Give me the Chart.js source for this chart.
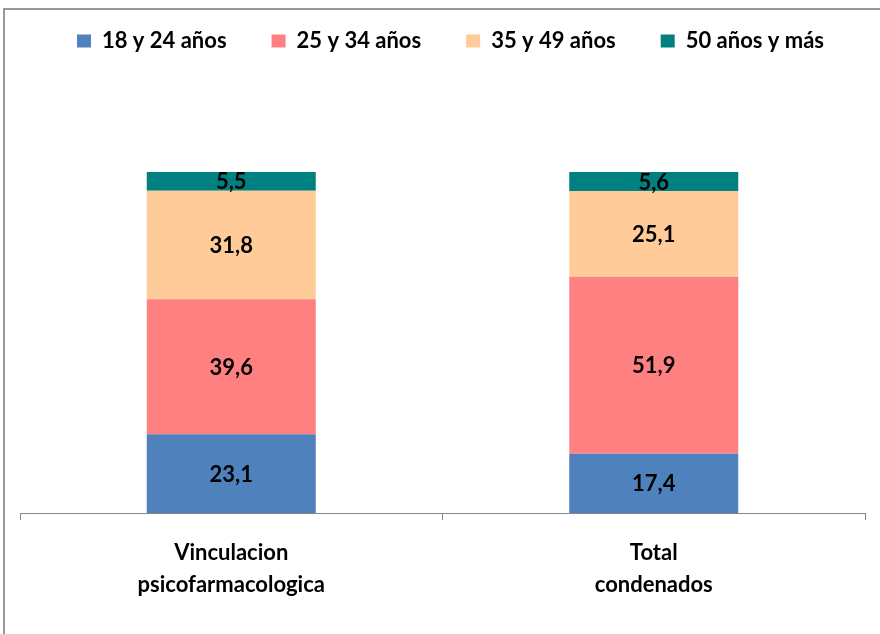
<!DOCTYPE html>
<html>
<head>
<meta charset="utf-8">
<script src="https://cdn.jsdelivr.net/npm/chart.js@4.4.1/dist/chart.umd.min.js"></script>
<style>
  html, body { margin: 0; padding: 0; background: #fff; }
  #wrap { position: relative; width: 880px; height: 634px; overflow: hidden; }
  #frame { position: absolute; left: 3px; top: 8px; width: 900px; height: 700px;
           border-left: 2px solid #999; border-top: 2px solid #999; }
  #c { position: absolute; left: 0; top: 0; }
</style>
</head>
<body>
<div id="wrap">
  <div id="frame"></div>
  <canvas id="c" width="880" height="634"></canvas>
</div>
<script>
// Data
var categories = [['Vinculacion', 'psicofarmacologica'], ['Total', 'condenados']];
var seriesNames = ['18 y 24 años', '25 y 34 años', '35 y 49 años', '50 años y más'];
var age18to24 = [23.1, 17.4];
var age25to34 = [39.6, 51.9];
var age35to49 = [31.8, 25.1];
var age50plus = [5.5, 5.6];
var seriesColors = ['#4F81BD', '#FF8080', '#FFCC99', '#008080'];

var FONT = 'Lato, "Open Sans", sans-serif';

// Draw the value of each segment centred inside it
var valueLabels = {
  id: 'valueLabels',
  afterDatasetsDraw: function(chart) {
    var ctx = chart.ctx;
    ctx.save();
    ctx.font = 'bold 22px ' + FONT;
    ctx.fillStyle = '#000';
    ctx.textAlign = 'center';
    ctx.textBaseline = 'middle';
    chart.data.datasets.forEach(function(ds, i) {
      var meta = chart.getDatasetMeta(i);
      meta.data.forEach(function(bar, j) {
        var p = bar.getProps(['x', 'y', 'base'], true);
        var txt = ds.data[j].toFixed(1).replace('.', ',');
        ctx.fillText(txt, p.x, (p.y + p.base) / 2 + 1);
      });
    });
    ctx.restore();
  }
};

// Give the legend a fixed height so the plot starts where the reference does,
// and nudge it a little right like the original
var legendHeight = {
  id: 'legendHeight',
  beforeInit: function(chart) {
    var fit = chart.legend.fit;
    chart.legend.fit = function() {
      fit.bind(chart.legend)();
      this.height = 187;
    };
  },
  afterLayout: function(chart) {
    chart.legend.left += 8;
    chart.legend.right += 8;
  }
};

var datasets = [age18to24, age25to34, age35to49, age50plus].map(function(vals, i) {
  return {
    label: seriesNames[i],
    data: vals,
    backgroundColor: seriesColors[i],
    borderWidth: 0,
    categoryPercentage: 1,
    barPercentage: 0.4
  };
});

new Chart(document.getElementById('c'), {
  type: 'bar',
  data: { labels: categories, datasets: datasets },
  plugins: [legendHeight, valueLabels],
  options: {
    responsive: false,
    animation: false,
    layout: { padding: { left: 20, right: 15, top: -15, bottom: 0 } },
    plugins: {
      tooltip: { enabled: false },
      legend: {
        position: 'top',
        labels: {
          boxWidth: 14,
          boxHeight: 13,
          padding: 45,
          color: '#000',
          font: { family: FONT, size: 22, weight: 'bold' }
        }
      }
    },
    scales: {
      x: {
        stacked: true,
        afterFit: function(scale) { scale.height = 121; },
        border: { display: true, color: '#868686', width: 1 },
        grid: { display: true, drawOnChartArea: false, drawTicks: true, tickLength: 7, color: '#868686', offset: true },
        ticks: {
          color: '#000',
          padding: 17,
          maxRotation: 0,
          font: { family: FONT, size: 22, weight: 'bold', lineHeight: '32px' }
        }
      },
      y: {
        stacked: true,
        display: false,
        min: 0,
        max: 100
      }
    }
  }
});
</script>
</body>
</html>
